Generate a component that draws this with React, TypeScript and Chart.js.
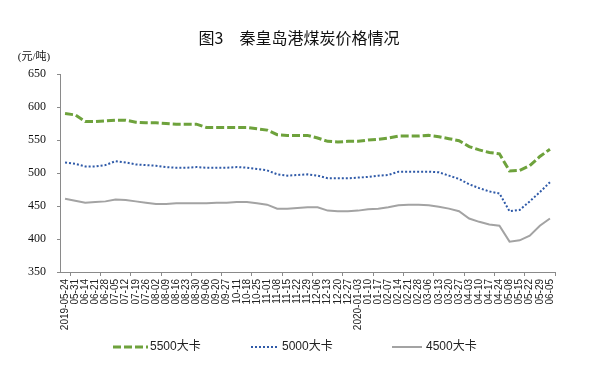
import React, { useEffect, useRef } from 'react';
import { Chart, registerables } from 'chart.js';

Chart.register(...registerables);

const categories = [
  '2019-05-24', '05-31', '06-14', '06-21', '06-28', '07-05', '07-12', '07-19', '07-26',
  '08-02', '08-09', '08-16', '08-23', '08-30', '09-06', '09-20', '09-27', '10-11',
  '10-18', '10-25', '11-01', '11-08', '11-15', '11-22', '11-29', '12-06', '12-13',
  '12-20', '12-27', '2020-01-03', '01-10', '01-17', '02-07', '02-14', '02-21', '02-28',
  '03-06', '03-13', '03-20', '03-27', '04-03', '04-10', '04-17', '04-24', '05-08',
  '05-15', '05-22', '05-29', '06-05',
];

const series5500 = [
  590, 588, 578, 578, 579, 580, 580, 577, 576, 576, 575, 574, 574, 574, 569, 569, 569,
  569, 569, 567, 565, 558, 557, 557, 557, 553, 548, 547, 548, 548, 550, 551, 553, 556,
  556, 556, 557, 555, 552, 549, 540, 535, 531, 529, 503, 504, 511, 525, 536,
];

const series5000 = [
  516, 514, 510, 510, 512, 518, 516, 513, 512, 511, 509, 508, 508, 509, 508, 508, 508,
  509, 508, 506, 504, 498, 496, 497, 498, 496, 492, 492, 492, 493, 494, 496, 497, 502,
  502, 502, 502, 501, 496, 491, 483, 477, 472, 469, 442, 444, 457, 471, 486,
];

const series4500 = [
  461, 458, 455, 456, 457, 460, 459, 457, 455, 453, 453, 454, 454, 454, 454, 455, 455,
  456, 456, 454, 452, 446, 446, 447, 448, 448, 443, 442, 442, 443, 445, 446, 448, 451,
  452, 452, 451, 449, 446, 442, 431, 426, 422, 420, 396, 398, 405, 420, 431,
];

const seriesNames = ['5500大卡', '5000大卡', '4500大卡'];
const yMin = 350;
const yMax = 650;
const yStep = 50;

const chartTitle = '图3\u3000秦皇岛港煤炭价格情况';
const unitLabel = '(元/吨)';

const GREEN = '#6ea23c';
const BLUE = '#2f5aa8';
const GRAY = '#a3a3a3';
const AXIS = '#8a8a8a';

const textPlugin = {
  id: 'extraText',
  afterDraw(chart: any) {
    const ctx = chart.ctx;
    ctx.save();
    // title
    ctx.fillStyle = '#111';
    ctx.textAlign = 'center';
    ctx.textBaseline = 'middle';
    ctx.font = '16px "Noto Sans CJK SC", "Liberation Sans", sans-serif';
    ctx.fillText(chartTitle, 299, 38);
    // unit
    ctx.font = '11px "Liberation Serif", "Noto Sans CJK SC", serif';
    ctx.fillText(unitLabel, 34, 57);
    // legend
    const legendX = [113, 251, 392];
    const legendY = 347;
    const lineLen = 35;
    chart.data.datasets.forEach((ds: any, i: number) => {
      const x = legendX[i];
      ctx.beginPath();
      ctx.strokeStyle = ds.borderColor;
      ctx.lineWidth = ds.borderWidth;
      ctx.setLineDash(ds.borderDash || []);
      ctx.lineCap = 'butt';
      ctx.moveTo(x, legendY);
      ctx.lineTo(x + (i === 1 ? 28 : i === 2 ? 30 : lineLen), legendY);
      ctx.stroke();
      ctx.setLineDash([]);
      ctx.fillStyle = '#222';
      ctx.textAlign = 'left';
      ctx.font = '12px "Liberation Sans", "Noto Sans CJK SC", sans-serif';
      ctx.fillText(ds.label, x + (i === 1 ? 31 : i === 2 ? 34 : lineLen + 2), legendY);
    });
    ctx.restore();
  },
};

export default function App() {
  const canvasRef = useRef<HTMLCanvasElement | null>(null);

  useEffect(() => {
    if (!canvasRef.current) return;
    const chart = new Chart(canvasRef.current, {
      type: 'line',
      data: {
        labels: categories,
        datasets: [
          {
            label: seriesNames[0],
            data: series5500,
            borderColor: GREEN,
            backgroundColor: GREEN,
            borderWidth: 3,
            borderDash: [8, 3],
            pointRadius: 0,
            tension: 0,
          },
          {
            label: seriesNames[1],
            data: series5000,
            borderColor: BLUE,
            backgroundColor: BLUE,
            borderWidth: 2,
            borderDash: [2, 2],
            pointRadius: 0,
            tension: 0,
          },
          {
            label: seriesNames[2],
            data: series4500,
            borderColor: GRAY,
            backgroundColor: GRAY,
            borderWidth: 2,
            pointRadius: 0,
            tension: 0,
          },
        ],
      },
      options: {
        animation: false,
        responsive: false,
        devicePixelRatio: 1,
        layout: { padding: { top: 74, right: 57, left: 0, bottom: 0 } },
        plugins: {
          legend: { display: false },
          title: { display: false },
          tooltip: { enabled: false },
        },
        scales: {
          x: {
            type: 'category',
            offset: true,
            afterFit: (s: any) => {
              s.height = 114;
            },
            grid: {
              display: true,
              offset: true,
              drawOnChartArea: false,
              drawTicks: true,
              tickLength: 4,
              color: (c: any) => {
                const idx = c.index === undefined ? categories.length : c.index;
                return idx % 3 === 1 ? AXIS : 'rgba(0,0,0,0)';
              },
            },
            border: { display: true, color: AXIS, width: 1 },
            ticks: {
              autoSkip: false,
              maxRotation: 90,
              minRotation: 90,
              padding: 3,
              color: '#222',
              font: { family: '"Liberation Sans", Arial, sans-serif', size: 10 },
            },
          },
          y: {
            min: yMin,
            max: yMax,
            afterFit: (s: any) => {
              s.width = 60;
            },
            grid: {
              display: true,
              drawOnChartArea: false,
              drawTicks: true,
              tickLength: 3,
              color: AXIS,
            },
            border: { display: true, color: AXIS, width: 1 },
            ticks: {
              stepSize: yStep,
              padding: 11,
              color: '#111',
              font: { family: '"Liberation Serif", "Times New Roman", serif', size: 12 },
            },
          },
        },
      },
      plugins: [textPlugin],
    } as any);
    return () => chart.destroy();
  }, []);

  return (
    <div style={{ position: 'absolute', left: 0, top: 0, width: 612, height: 386, background: '#fff' }}>
      <canvas ref={canvasRef} width={612} height={386} style={{ display: 'block' }} />
    </div>
  );
}
